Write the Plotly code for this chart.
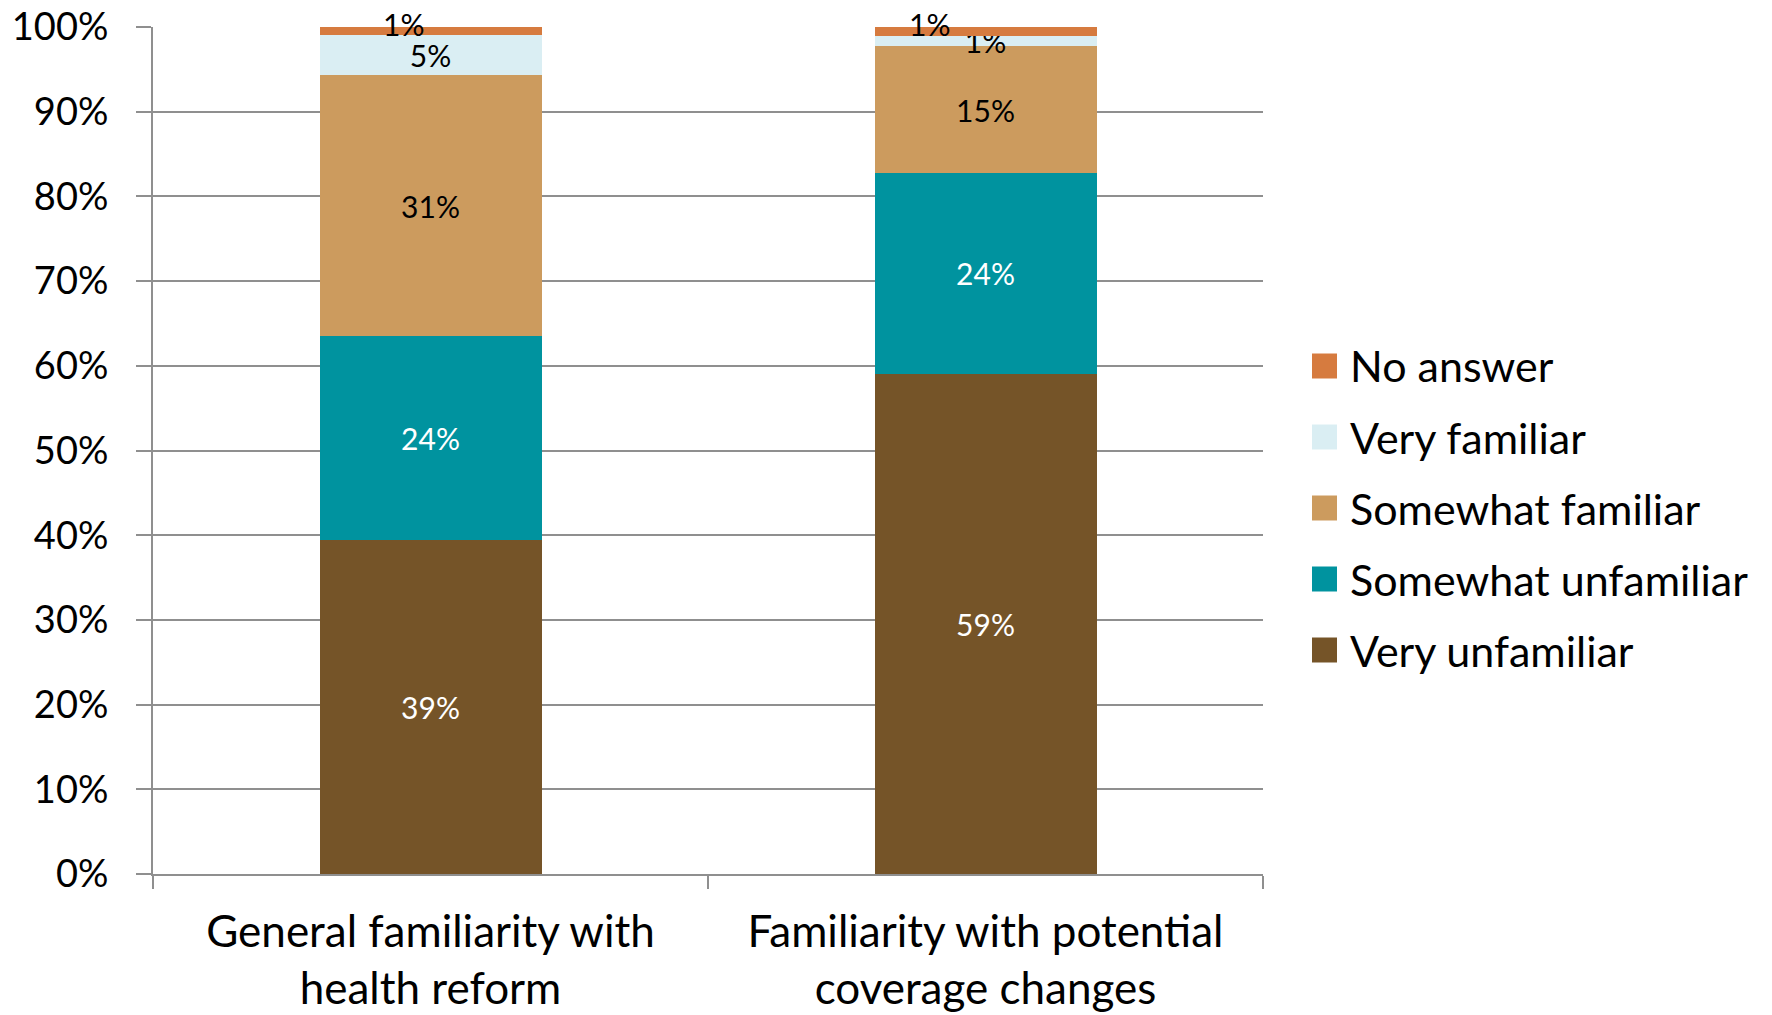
import plotly.graph_objects as go

categories = ["General familiarity with<br>health reform", "Familiarity with potential<br>coverage changes"]
series_names = ["Very unfamiliar", "Somewhat unfamiliar", "Somewhat familiar", "Very familiar", "No answer"]
very_unfamiliar = [39.4, 59.0]
somewhat_unfamiliar = [24.1, 23.8]
somewhat_familiar = [30.8, 14.9]
very_familiar = [4.8, 1.2]
no_answer = [0.9, 1.1]
y_ticks = [0, 10, 20, 30, 40, 50, 60, 70, 80, 90, 100]
y_tick_labels = ["0%", "10%", "20%", "30%", "40%", "50%", "60%", "70%", "80%", "90%", "100%"]

series_values = [very_unfamiliar, somewhat_unfamiliar, somewhat_familiar, very_familiar, no_answer]
colors = ["#755428", "#00939F", "#CC9B5E", "#DAEEF3", "#D67B3F"]
text_colors = ["white", "white", "black", "black", "black"]

FONT = "Lato"
W, H = 1772, 1015
ML, MR, MT, MB = 153, 509, 27, 141
PW, PH = W - ML - MR, H - MT - MB


def px_to_paper_x(px):
    return (px - ML) / PW


def px_to_paper_y(py):
    return (H - MB - py) / PH


fig = go.Figure()
for i, (name, vals) in enumerate(zip(series_names, series_values)):
    show_text = name != "No answer"
    fig.add_trace(go.Bar(
        x=categories, y=vals, name=name,
        marker=dict(color=colors[i], line=dict(width=0)),
        texttemplate="%{y:.0f}%" if show_text else None,
        textposition="inside" if show_text else "none",
        insidetextanchor="middle",
        constraintext="none",
        textfont=dict(color=text_colors[i], size=30, family=FONT),
        showlegend=False,
        hoverinfo="skip",
    ))

# No answer labels, displaced left of bar centre as in reference
shifts = [-27, -56]
for j, cat in enumerate(categories):
    top = sum(s[j] for s in series_values)
    fig.add_annotation(x=cat, y=top, text=f"{no_answer[j]:.0f}%", showarrow=False,
                       xshift=shifts[j], yshift=3,
                       font=dict(size=30, family=FONT, color="black"))

# Legend (drawn as shapes + text so swatches match the reference size)
legend_top_px, legend_step_px = 366, 71
sw_left, sw_size, text_left = 1312, 25, 1348
for k, i in enumerate(reversed(range(len(series_names)))):
    cy = legend_top_px + k * legend_step_px
    fig.add_shape(type="rect", xref="paper", yref="paper",
                  x0=px_to_paper_x(sw_left), x1=px_to_paper_x(sw_left + sw_size),
                  y0=px_to_paper_y(cy + sw_size / 2), y1=px_to_paper_y(cy - sw_size / 2),
                  fillcolor=colors[i], line=dict(width=0))
    fig.add_annotation(xref="paper", yref="paper", x=px_to_paper_x(text_left),
                       y=px_to_paper_y(cy), xanchor="left", yanchor="middle",
                       text=series_names[i], showarrow=False,
                       font=dict(size=43, family=FONT, color="black"))

fig.update_layout(
    barmode="stack",
    bargap=0.6,
    width=W, height=H,
    margin=dict(l=ML, r=MR, t=MT, b=MB, autoexpand=False),
    plot_bgcolor="white", paper_bgcolor="white",
    font=dict(family=FONT, color="black"),
    showlegend=False,
    xaxis=dict(
        automargin=False,
        showline=True, linecolor="#8f8f8f", linewidth=2,
        ticks="outside", tickson="boundaries", ticklen=13, tickcolor="#8f8f8f", tickwidth=2,
        tickfont=dict(size=44, family=FONT, color="black"),
        ticklabelstandoff=18,
    ),
    yaxis=dict(
        automargin=False,
        range=[0, 100], tickvals=y_ticks, ticktext=y_tick_labels,
        showline=True, linecolor="#8f8f8f", linewidth=2,
        showgrid=True, gridcolor="#8f8f8f", gridwidth=2,
        ticks="outside", ticklen=15, tickcolor="#8f8f8f", tickwidth=2,
        tickfont=dict(size=38, family=FONT, color="black"),
        ticklabelstandoff=20,
        zeroline=False,
    ),
)

fig.write_html("out.html")
